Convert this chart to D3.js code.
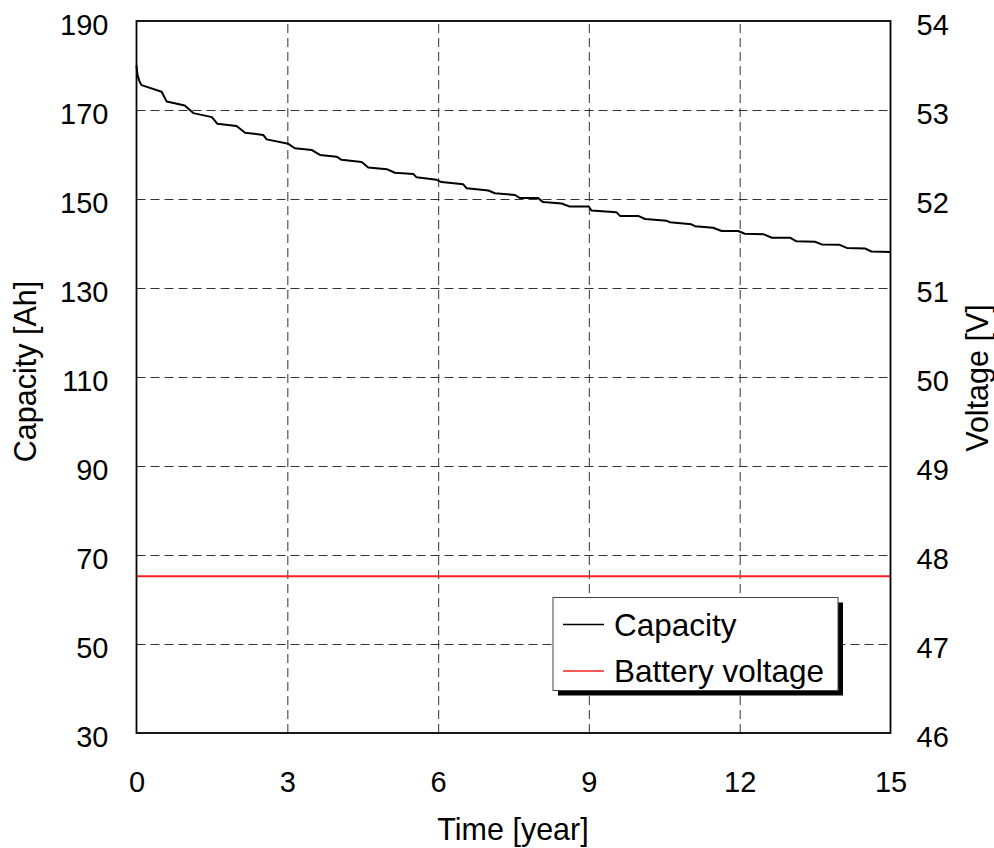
<!DOCTYPE html>
<html>
<head>
<meta charset="utf-8">
<script src="https://cdn.jsdelivr.net/npm/d3@7"></script>
<style>
  html, body { margin: 0; padding: 0; background: #fff; }
  text { font-family: "Liberation Sans", Arial, sans-serif; fill: #000; }
</style>
</head>
<body>
<svg id="chart" width="994" height="848"></svg>
<script>
// ---- data ----
const timeYears = [0, 0.02, 0.06, 0.10, 0.50, 0.60, 0.96, 1.13, 1.50, 1.61, 1.99, 2.16, 2.52, 2.59, 3.02, 3.15, 3.49, 3.65, 3.98, 4.08, 4.48, 4.61, 4.98, 5.14, 5.51, 5.57, 5.97, 6.07, 6.50, 6.57, 7.00, 7.13, 7.53, 7.63, 7.99, 8.09, 8.46, 8.62, 9.00, 9.05, 9.55, 9.62, 9.98, 10.12, 10.55, 10.61, 11.04, 11.11, 11.47, 11.64, 11.97, 12.10, 12.47, 12.64, 13.00, 13.13, 13.50, 13.63, 13.99, 14.13, 14.49, 14.62, 15.00];
const capacityAh = [180.0, 177.9, 176.4, 175.6, 174.1, 171.9, 171.0, 169.3, 168.4, 166.9, 166.4, 164.9, 164.4, 163.4, 162.4, 161.4, 161.0, 159.9, 159.5, 158.8, 158.3, 157.1, 156.7, 155.9, 155.6, 154.9, 154.3, 153.8, 153.3, 152.4, 151.9, 151.3, 150.9, 150.2, 150.2, 149.3, 149.0, 148.3, 148.3, 147.4, 147.0, 146.2, 146.2, 145.5, 145.1, 144.8, 144.3, 143.9, 143.55, 142.8, 142.8, 142.2, 142.1, 141.3, 141.3, 140.5, 140.4, 139.8, 139.7, 139.0, 138.9, 138.2, 138.1];
const voltageTime = [0, 15];
const batteryVoltage = [47.76, 47.76];
const xTicks = [0, 3, 6, 9, 12, 15];
const yLeftTicks = [30, 50, 70, 90, 110, 130, 150, 170, 190];
const yRightTicks = [46, 47, 48, 49, 50, 51, 52, 53, 54];
const seriesNames = ["Capacity", "Battery voltage"];
const seriesColors = ["#000000", "#ff2020"];

// ---- layout ----
const L = 136.5, R = 890.5, T = 21, B = 733;
const svg = d3.select("#chart");
const x = d3.scaleLinear().domain([0, 15]).range([L, R]);
const yL = d3.scaleLinear().domain([30, 190]).range([B, T]);
const yR = d3.scaleLinear().domain([46, 54]).range([B, T]);
const FONT = "'Liberation Sans', Arial, sans-serif";

// gridlines
const grid = svg.append("g");
grid.append("g").attr("transform", `translate(0,${B})`)
  .call(d3.axisBottom(x).tickValues(xTicks.slice(1, -1)).tickSize(-(B - T)).tickFormat(""))
  .call(g => g.select(".domain").remove())
  .call(g => g.selectAll("line").attr("stroke", "#555").attr("stroke-width", 1.2).attr("stroke-dasharray", "9,5"));
grid.append("g").attr("transform", `translate(${L},0)`)
  .call(d3.axisLeft(yL).tickValues(yLeftTicks.slice(1, -1)).tickSize(-(R - L)).tickFormat(""))
  .call(g => g.select(".domain").remove())
  .call(g => g.selectAll("line").attr("stroke", "#333").attr("stroke-width", 1).attr("stroke-dasharray", "9,5"));

// tick labels
const fs = 29;
svg.append("g").attr("transform", `translate(${L},0)`)
  .call(d3.axisLeft(yL).tickValues(yLeftTicks).tickSize(0).tickPadding(28).tickFormat(d3.format("d")))
  .call(g => g.select(".domain").remove())
  .call(g => g.selectAll("text").attr("font-size", fs).attr("dy", "0.46em").style("font-family", FONT));
svg.append("g").attr("transform", `translate(${R},0)`)
  .call(d3.axisRight(yR).tickValues(yRightTicks).tickSize(0).tickPadding(26).tickFormat(d3.format("d")))
  .call(g => g.select(".domain").remove())
  .call(g => g.selectAll("text").attr("font-size", fs).attr("dy", "0.46em").style("font-family", FONT));
svg.append("g").attr("transform", `translate(0,${B})`)
  .call(d3.axisBottom(x).tickValues(xTicks).tickSize(0).tickFormat(d3.format("d")))
  .call(g => g.select(".domain").remove())
  .call(g => g.selectAll("text").attr("font-size", fs).attr("y", 49).attr("dy", "0.36em").style("font-family", FONT));

// axis titles
const tfs = 30.5;
svg.append("text").attr("transform", "translate(36,371.5) rotate(-90)")
  .attr("text-anchor", "middle").attr("font-size", tfs).text("Capacity [Ah]");
svg.append("text").attr("transform", "translate(988,378) rotate(-90)")
  .attr("text-anchor", "middle").attr("font-size", tfs).text("Voltage [V]");
svg.append("text").attr("x", 513).attr("y", 840)
  .attr("text-anchor", "middle").attr("font-size", tfs).text("Time [year]");

// lines
const capData = timeYears.map((t, i) => [t, capacityAh[i]]);
const vData = voltageTime.map((t, i) => [t, batteryVoltage[i]]);
svg.append("path").datum(vData)
  .attr("fill", "none").attr("stroke", seriesColors[1]).attr("stroke-width", 2)
  .attr("d", d3.line().x(d => x(d[0])).y(d => yR(d[1])));
svg.append("path").datum(capData)
  .attr("fill", "none").attr("stroke", seriesColors[0]).attr("stroke-width", 2).attr("stroke-linejoin", "round")
  .attr("d", d3.line().x(d => x(d[0])).y(d => yL(d[1])));

// frame
svg.append("rect").attr("x", L).attr("y", T).attr("width", R - L).attr("height", B - T)
  .attr("fill", "none").attr("stroke", "#000").attr("stroke-width", 1.8);

// legend
const lg = svg.append("g");
const lx = 553, ly = 597.5, lw = 285, lh = 93;
lg.append("rect").attr("x", lx + 5).attr("y", ly + 5).attr("width", lw).attr("height", lh).attr("fill", "#000");
lg.append("rect").attr("x", lx).attr("y", ly).attr("width", lw).attr("height", lh)
  .attr("fill", "#fff").attr("stroke", "#444").attr("stroke-width", 1);
seriesNames.forEach((name, i) => {
  const yy = 624.5 + i * 46.5;
  lg.append("line").attr("x1", 563).attr("x2", 604).attr("y1", yy).attr("y2", yy)
    .attr("stroke", seriesColors[i]).attr("stroke-width", 1.5);
  lg.append("text").attr("x", 614).attr("y", yy + 11).attr("font-size", 31.5).text(name);
});
</script>
</body>
</html>
